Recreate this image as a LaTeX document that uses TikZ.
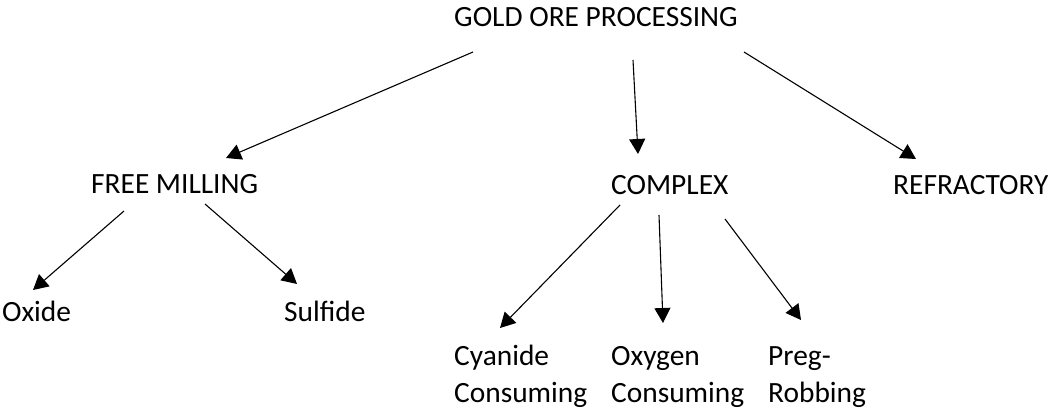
\documentclass[tikz,border=0pt]{standalone}
\usepackage{fontspec}
\setmainfont{Carlito}
\usetikzlibrary{arrows.meta}
\begin{document}
\begin{tikzpicture}[x=1pt,y=-1pt,
  lbl/.style={anchor=base west,inner sep=0pt,font=\fontsize{29.4}{37}\selectfont},
  conn/.style={line width=1.1pt,-{Triangle[length=15pt,width=16pt]}}]
\useasboundingbox (0,0) rectangle (1048,417);
% labels
\node[lbl] (gold) at (454,27) {GOLD ORE PROCESSING};
\node[lbl] (free) at (91,193) {FREE MILLING};
\node[lbl] (complex) at (611,194) {COMPLEX};
\node[lbl] (refr) at (893,194) {REFRACTORY};
\node[lbl] (oxide) at (2,321) {Oxide};
\node[lbl] (sulfide) at (284,321) {Sulfide};
\node[lbl] (cyan) at (454,365) {\begin{tabular}[t]{@{}l@{}}Cyanide\\Consuming\end{tabular}};
\node[lbl] (oxy) at (611,365) {\begin{tabular}[t]{@{}l@{}}Oxygen\\Consuming\end{tabular}};
\node[lbl] (preg) at (768,365) {\begin{tabular}[t]{@{}l@{}}Preg-\\Robbing\end{tabular}};
% connector ends
\coordinate (gold-l) at (473,52);
\coordinate (free-t) at (226,158);
\coordinate (gold-m) at (633,60);
\coordinate (complex-t) at (638,154);
\coordinate (gold-r) at (744,52);
\coordinate (refr-t) at (916,159);
\coordinate (free-l) at (124,211);
\coordinate (oxide-t) at (33,290);
\coordinate (free-r) at (205,204);
\coordinate (sulfide-t) at (297,284);
\coordinate (complex-l) at (620,205);
\coordinate (cyan-t) at (500,328);
\coordinate (complex-m) at (659,215);
\coordinate (oxy-t) at (663,323);
\coordinate (complex-r) at (725,219);
\coordinate (preg-t) at (801,320);
% connectors
\draw[conn] (gold-l) -- (free-t);
\draw[conn] (gold-m) -- (complex-t);
\draw[conn] (gold-r) -- (refr-t);
\draw[conn] (free-l) -- (oxide-t);
\draw[conn] (free-r) -- (sulfide-t);
\draw[conn] (complex-l) -- (cyan-t);
\draw[conn] (complex-m) -- (oxy-t);
\draw[conn] (complex-r) -- (preg-t);
\end{tikzpicture}
\end{document}
